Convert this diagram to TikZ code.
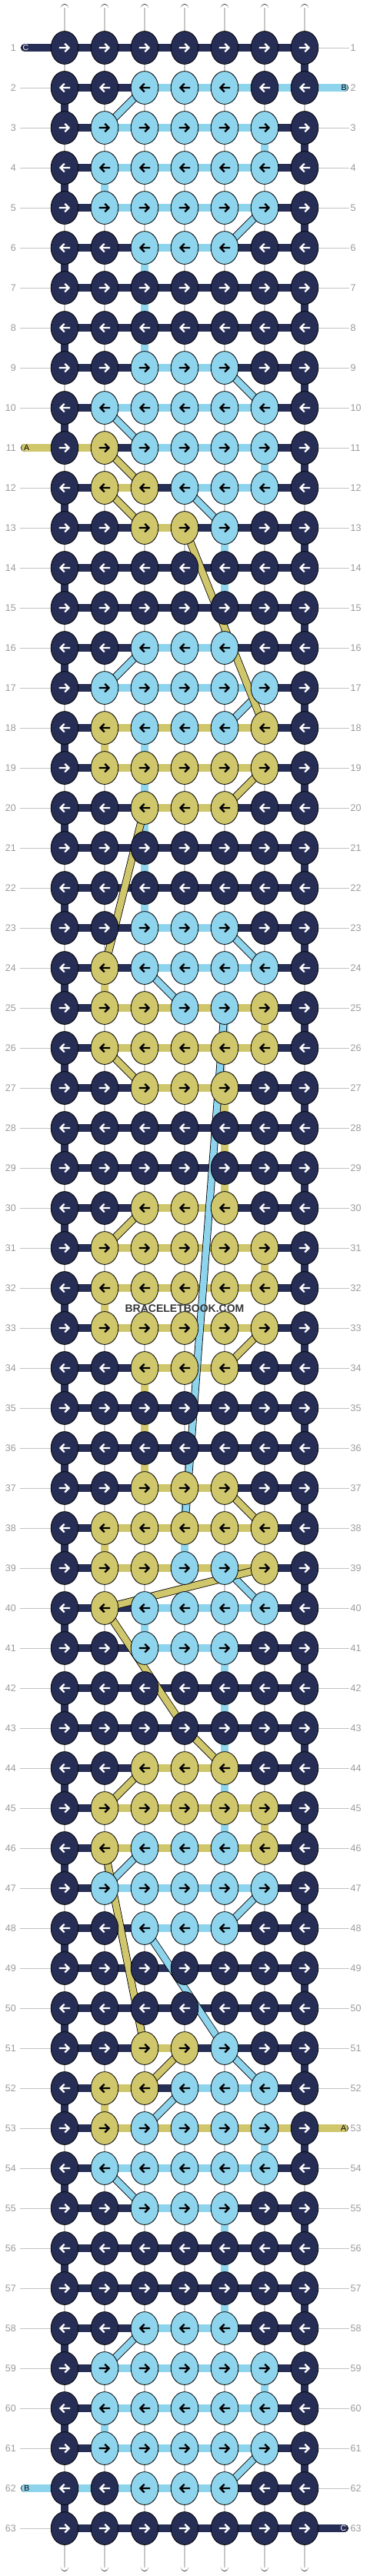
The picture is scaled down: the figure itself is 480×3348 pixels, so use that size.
\documentclass[tikz,border=0pt]{standalone}
\usepackage{fontspec}
\setmainfont{Liberation Sans}
\definecolor{cD}{RGB}{39,46,86}
\definecolor{cL}{RGB}{142,212,237}
\definecolor{cY}{RGB}{208,198,108}
\definecolor{cW}{RGB}{255,255,255}
\definecolor{aD}{RGB}{255,255,255}
\definecolor{aL}{RGB}{0,0,0}
\definecolor{aY}{RGB}{0,0,0}
\definecolor{lblgray}{RGB}{155,155,155}
\definecolor{linegray}{RGB}{195,195,195}
\definecolor{wmark}{RGB}{55,55,55}
\definecolor{strgray}{RGB}{200,200,200}
\def\rowdata{%
1/{D,D,D,D,D,D,D}/{D,D,D,D,D,D}/{W,W,W,W,W,W,D},
2/{D,D,L,L,L,D,D}/{D,D,L,L,L,L}/{D,W,W,W,W,W,W},
3/{D,L,L,L,L,L,D}/{D,L,L,L,L,D}/{W,W,W,W,W,L,D},
4/{D,L,L,L,L,L,D}/{D,L,L,L,L,D}/{D,L,W,W,W,W,W},
5/{D,L,L,L,L,L,D}/{D,L,L,L,L,D}/{W,W,W,W,W,W,D},
6/{D,D,L,L,L,D,D}/{D,D,L,L,D,D}/{D,W,L,W,W,W,W},
7/{D,D,D,D,D,D,D}/{D,D,D,D,D,D}/{W,W,L,W,W,W,D},
8/{D,D,D,D,D,D,D}/{D,D,D,D,D,D}/{D,W,L,W,W,W,W},
9/{D,D,L,L,L,D,D}/{D,D,L,L,D,D}/{W,W,W,W,W,W,D},
10/{D,L,L,L,L,L,D}/{D,L,L,L,L,D}/{D,W,W,W,W,W,W},
11/{D,Y,L,L,L,L,D}/{Y,D,L,L,L,D}/{W,W,W,W,W,L,D},
12/{D,Y,Y,L,L,L,D}/{D,Y,D,L,L,D}/{D,W,W,W,W,W,W},
13/{D,D,Y,Y,L,D,D}/{D,D,Y,D,D,D}/{W,W,W,W,L,W,D},
14/{D,D,D,D,D,D,D}/{D,D,D,D,D,D}/{D,W,W,W,L,W,W},
15/{D,D,D,D,D,D,D}/{D,D,D,D,D,D}/{W,W,W,W,L,W,D},
16/{D,D,L,L,L,D,D}/{D,D,L,L,D,D}/{D,W,W,W,W,W,W},
17/{D,L,L,L,L,L,D}/{D,L,L,L,L,D}/{W,W,W,W,W,W,D},
18/{D,Y,L,L,L,Y,D}/{D,Y,Y,Y,Y,D}/{D,Y,L,W,W,W,W},
19/{D,Y,Y,Y,Y,Y,D}/{D,Y,Y,Y,Y,D}/{W,W,L,W,W,W,D},
20/{D,D,Y,Y,Y,D,D}/{D,D,Y,Y,D,D}/{D,W,L,W,W,W,W},
21/{D,D,D,D,D,D,D}/{D,D,D,D,D,D}/{W,W,L,W,W,W,D},
22/{D,D,D,D,D,D,D}/{D,D,D,D,D,D}/{D,W,L,W,W,W,W},
23/{D,D,L,L,L,D,D}/{D,D,L,L,D,D}/{W,W,W,W,W,W,D},
24/{D,Y,L,L,L,L,D}/{D,D,L,L,L,D}/{D,Y,W,W,W,W,W},
25/{D,Y,Y,L,L,Y,D}/{D,Y,Y,Y,Y,D}/{W,W,W,W,L,Y,D},
26/{D,Y,Y,Y,Y,Y,D}/{D,Y,Y,Y,Y,D}/{D,W,W,W,W,W,W},
27/{D,D,Y,Y,Y,D,D}/{D,D,Y,Y,D,D}/{W,W,W,W,Y,W,D},
28/{D,D,D,D,D,D,D}/{D,D,D,D,D,D}/{D,W,W,W,Y,W,W},
29/{D,D,D,D,D,D,D}/{D,D,D,D,D,D}/{W,W,W,W,Y,W,D},
30/{D,D,Y,Y,Y,D,D}/{D,D,Y,Y,D,D}/{D,W,W,W,W,W,W},
31/{D,Y,Y,Y,Y,Y,D}/{D,Y,Y,Y,Y,D}/{W,W,W,W,W,Y,D},
32/{D,Y,Y,Y,Y,Y,D}/{D,Y,Y,Y,Y,D}/{D,Y,W,W,W,W,W},
33/{D,Y,Y,Y,Y,Y,D}/{D,Y,Y,Y,Y,D}/{W,W,W,W,W,W,D},
34/{D,D,Y,Y,Y,D,D}/{D,D,Y,Y,D,D}/{D,W,Y,W,W,W,W},
35/{D,D,D,D,D,D,D}/{D,D,D,D,D,D}/{W,W,Y,W,W,W,D},
36/{D,D,D,D,D,D,D}/{D,D,D,D,D,D}/{D,W,Y,W,W,W,W},
37/{D,D,Y,Y,Y,D,D}/{D,D,Y,Y,D,D}/{W,W,W,L,W,W,D},
38/{D,Y,Y,Y,Y,Y,D}/{D,Y,Y,Y,Y,D}/{D,Y,W,L,W,W,W},
39/{D,Y,Y,L,L,Y,D}/{D,Y,Y,Y,Y,D}/{W,W,W,W,W,W,D},
40/{D,Y,L,L,L,L,D}/{D,D,L,L,L,D}/{D,W,L,W,W,W,W},
41/{D,D,L,L,L,D,D}/{D,D,L,L,D,D}/{W,W,W,W,L,W,D},
42/{D,D,D,D,D,D,D}/{D,D,D,D,D,D}/{D,W,W,W,L,W,W},
43/{D,D,D,D,D,D,D}/{D,D,D,D,D,D}/{W,W,W,W,L,W,D},
44/{D,D,Y,Y,Y,D,D}/{D,D,Y,Y,D,D}/{D,W,W,W,L,W,W},
45/{D,Y,Y,Y,Y,Y,D}/{D,Y,Y,Y,Y,D}/{W,W,W,W,L,Y,D},
46/{D,Y,L,L,L,Y,D}/{D,Y,Y,Y,Y,D}/{D,W,W,W,W,W,W},
47/{D,L,L,L,L,L,D}/{D,L,L,L,L,D}/{W,W,W,W,W,W,D},
48/{D,D,L,L,L,D,D}/{D,D,L,L,D,D}/{D,W,W,W,W,W,W},
49/{D,D,D,D,D,D,D}/{D,D,D,D,D,D}/{W,W,W,W,W,W,D},
50/{D,D,D,D,D,D,D}/{D,D,D,D,D,D}/{D,W,W,W,W,W,W},
51/{D,D,Y,Y,L,D,D}/{D,D,Y,D,D,D}/{W,W,W,W,W,W,D},
52/{D,Y,Y,L,L,L,D}/{D,Y,D,L,L,D}/{D,Y,W,W,W,W,W},
53/{D,Y,L,L,L,L,D}/{D,Y,Y,Y,Y,Y}/{W,W,W,W,W,L,D},
54/{D,L,L,L,L,L,D}/{D,L,L,L,L,D}/{D,W,W,W,W,W,W},
55/{D,D,L,L,L,D,D}/{D,D,L,L,D,D}/{W,W,W,W,L,W,D},
56/{D,D,D,D,D,D,D}/{D,D,D,D,D,D}/{D,W,W,W,L,W,W},
57/{D,D,D,D,D,D,D}/{D,D,D,D,D,D}/{W,W,W,W,L,W,D},
58/{D,D,L,L,L,D,D}/{D,D,L,L,D,D}/{D,W,W,W,W,W,W},
59/{D,L,L,L,L,L,D}/{D,L,L,L,L,D}/{W,W,W,W,W,L,D},
60/{D,L,L,L,L,L,D}/{D,L,L,L,L,D}/{D,L,W,W,W,W,W},
61/{D,L,L,L,L,L,D}/{D,L,L,L,L,D}/{W,W,W,W,W,W,D},
62/{D,D,L,L,L,D,D}/{L,L,L,L,D,D}/{D,W,W,W,W,W,W},
63/{D,D,D,D,D,D,D}/{D,D,D,D,D,D}/{W,W,W,W,W,W,W}}
\begin{document}
\begin{tikzpicture}[x=1pt,y=-1pt,
  seg/.style={draw=black,line width=0.8pt,double distance=9.2pt},
  dseg/.style={draw=black,line width=0.8pt,double distance=8.4pt},
  strline/.style={draw=strgray,line width=1.2pt,xshift=2pt},
  gline/.style={draw=linegray,line width=0.9pt},
  knot/.style={draw=black,line width=0.8pt},
  arr/.style={line width=2.3pt,line join=miter},
  numl/.style={text=lblgray,inner sep=0pt,font=\fontsize{12.5pt}{13pt}\selectfont},
  taill/.style={inner sep=0pt,font=\fontsize{10.5pt}{11pt}\selectfont}]
\useasboundingbox (0,0) rectangle (480,3348);
\fill[white] (0,0) rectangle (480,3348);
% knot positions
\foreach \r in {1,...,63}{\foreach \c in {1,...,7}{\coordinate (k\r-\c) at ({32+52*\c},{10+52*\r});}}
\foreach \c in {1,...,7}{\coordinate (top\c) at ({32+52*\c},10.5);\coordinate (bot\c) at ({32+52*\c},3336.5);}
% warp strings at top and bottom
\foreach \c in {1,...,7}{
  \draw[seg,double=white,line cap=round] (top\c) -- (k1-\c);
  \draw[strline] (top\c) -- (k1-\c);
  \draw[seg,double=white,line cap=round] (k63-\c) -- (bot\c);
  \draw[strline] (k63-\c) -- (bot\c);
}
% vertical segments
\foreach \Rw/\Kn/\Sg/\Vt in \rowdata {
  \ifnum\Rw<63
    \pgfmathtruncatemacro\Rn{\Rw+1}
    \foreach \cc [count=\i] in \Vt {
      \draw[seg,double=c\cc] (k\Rw-\i) -- (k\Rn-\i);
      \if\cc W\draw[strline] (k\Rw-\i) -- (k\Rn-\i);\fi
    }
  \fi
}
% gray row lines
\foreach \r in {1,...,63}{
  \coordinate (gl\r) at (26,{10+52*\r});
  \coordinate (gr\r) at (454,{10+52*\r});
  \ifnum\r=1 \else\ifnum\r=11 \else\ifnum\r=62 \else\draw[gline] (gl\r) -- (k\r-1);\fi\fi\fi
  \ifnum\r=2 \else\ifnum\r=53 \else\ifnum\r=63 \else\draw[gline] (k\r-7) -- (gr\r);\fi\fi\fi
}
% horizontal segments
\foreach \Rw/\Kn/\Sg/\Vt in \rowdata {
  \foreach \cc [count=\i] in \Sg {
    \pgfmathtruncatemacro\j{\i+1}
    \draw[seg,double=c\cc] (k\Rw-\i) -- (k\Rw-\j);
  }
}
% string tails
\coordinate (tl1) at (32.3,62);
\coordinate (tr2) at (447.7,114);
\coordinate (tl11) at (32.3,582);
\coordinate (tr53) at (447.7,2766);
\coordinate (tl62) at (32.3,3234);
\coordinate (tr63) at (447.7,3286);
\draw[seg,double=cD,line cap=round] (tl1) -- (k1-1);
\draw[seg,double=cL,line cap=round] (k2-7) -- (tr2);
\draw[seg,double=cY,line cap=round] (tl11) -- (k11-1);
\draw[seg,double=cY,line cap=round] (k53-7) -- (tr53);
\draw[seg,double=cL,line cap=round] (tl62) -- (k62-1);
\draw[seg,double=cD,line cap=round] (k63-7) -- (tr63);
% diagonal strings
\foreach \a/\b/\cl in {2-3/3-2/L,5-6/6-5/L,9-5/10-6/L,10-2/11-3/L,12-4/13-5/L,16-3/17-2/L,
  17-6/18-5/L,23-5/24-6/L,24-3/25-4/L,25-5/38-4/L,39-5/40-6/L,46-3/47-2/L,47-6/48-5/L,
  48-3/51-5/L,51-5/52-6/L,52-4/53-3/L,54-2/55-3/L,58-3/59-2/L,61-6/62-5/L,
  11-2/12-3/Y,12-2/13-3/Y,13-4/18-6/Y,19-6/20-5/Y,20-3/24-2/Y,26-2/27-3/Y,30-3/31-2/Y,
  33-6/34-5/Y,37-5/38-6/Y,39-6/40-2/Y,40-2/43-4/Y,43-4/44-5/Y,44-3/45-2/Y,46-2/51-3/Y,51-4/52-3/Y}
  {\draw[dseg,double=c\cl] (k\a) -- (k\b);}
% knots
\foreach \Rw/\Kn/\Sg/\Vt in \rowdata {
  \ifodd\Rw\def\dd{1}\else\def\dd{-1}\fi
  \foreach \cc [count=\i] in \Kn {
    \draw[knot,fill=c\cc] (k\Rw-\i) ellipse [x radius=17.8,y radius=21.4];
    \draw[arr,draw=a\cc,shift={(k\Rw-\i)},xscale=\dd] (-7.2,0) -- (5.2,0) (0.3,-5.3) -- (5.6,0) -- (0.3,5.3);
  }
}
% row numbers
\foreach \r in {1,...,63}{
  \node[numl,anchor=east] (nl\r) at (21,{10+52*\r}) {\r};
  \node[numl,anchor=west] (nr\r) at (455.5,{10+52*\r}) {\r};
}
% tail labels
\node[taill,text=white] (lc1) at (33.5,62) {C};
\node[taill,text=black] (lb2) at (447,114) {B};
\node[taill,text=black] (la11) at (34.6,582) {A};
\node[taill,text=black] (la53) at (446.7,2766) {A};
\node[taill,text=black] (lb62) at (35,3234) {B};
\node[taill,text=white] (lc63) at (446.3,3286) {C};
% watermark
\node[inner sep=0pt,text=wmark,font=\bfseries\fontsize{14pt}{14pt}\selectfont] (wm) at (240,1700.5) {BRACELETBOOK.COM};
\end{tikzpicture}
\end{document}
